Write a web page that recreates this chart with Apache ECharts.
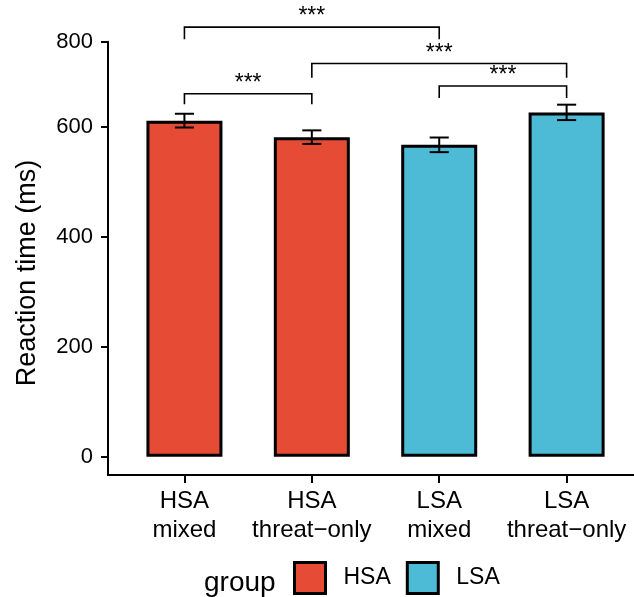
<!DOCTYPE html>
<html>
<head>
<meta charset="utf-8">
<script src="https://cdn.jsdelivr.net/npm/echarts@6/dist/echarts.min.js"></script>
<style>html,body{margin:0;padding:0;background:#fff}#c{width:634px;height:597px}</style>
</head>
<body>
<div id="c"></div>
<script>
// ---- data ----
const categories = ['HSA\nmixed', 'HSA\nthreat\u2212only', 'LSA\nmixed', 'LSA\nthreat\u2212only'];
const groupOf = ['HSA', 'HSA', 'LSA', 'LSA'];
const meanRT = [611, 581, 567, 626];
const seRT = [12.5, 12.3, 13.3, 14];
const groups = ['HSA', 'LSA'];
const yTickLabels = ['0', '200', '400', '600', '800'];
const yTickValues = [0, 200, 400, 600, 754.5];
const sigXmin = [1, 2, 1, 3];
const sigXmax = [3, 4, 2, 4];
const sigY = [781, 715, 660, 674];
const sigTip = [759, 689, 641, 652];
const sigLabel = ['***', '***', '***', '***'];

const colors = { HSA: '#E64B35', LSA: '#4DBBD5' };
const FONT = 'Liberation Sans, Arial, Helvetica, sans-serif';

const chart = echarts.init(document.getElementById('c'), null, { renderer: 'canvas' });

const barSeries = groups.map(g => ({
  name: g,
  type: 'bar',
  barWidth: 76,
  barGap: '-100%',
  itemStyle: { color: colors[g], borderColor: '#000', borderWidth: 3 },
  data: meanRT.map((v, i) => groupOf[i] === g ? [i + 1, v] : null).filter(d => d),
  z: 2
}));

const errData = meanRT.map((v, i) => [i + 1, v - seRT[i], v + seRT[i]]);
const sigData = sigXmin.map((x, i) => [x, sigXmax[i], sigY[i], sigTip[i], i]);

const option = {
  animation: false,
  backgroundColor: '#fff',
  grid: { left: 108, right: 0, top: 41.7, bottom: 122, containLabel: false },
  legend: {
    data: groups,
    left: 293,
    top: 561,
    padding: 0,
    icon: 'rect',
    itemWidth: 31,
    itemHeight: 31,
    itemGap: 15,
    itemStyle: { borderColor: '#000', borderWidth: 3 },
    textStyle: { fontFamily: FONT, fontSize: 23, color: '#000', padding: [0, 0, 0, 13] }
  },
  xAxis: {
    type: 'value',
    min: 0.4,
    max: 4.529,
    splitLine: { show: false },
    axisLine: { onZero: false, lineStyle: { color: '#000', width: 2 } },
    axisTick: { customValues: [1, 2, 3, 4], length: 8, lineStyle: { color: '#000', width: 2 } },
    axisLabel: {
      customValues: [1, 2, 3, 4],
      formatter: v => categories[Math.round(v) - 1],
      fontFamily: FONT, fontSize: 24, color: '#000', lineHeight: 29, margin: 12
    }
  },
  yAxis: {
    type: 'value',
    min: -33.3,
    max: 754.5,
    splitLine: { show: false },
    axisLine: { show: true, onZero: false, lineStyle: { color: '#000', width: 2 } },
    axisTick: { show: true, customValues: yTickValues, length: 7, lineStyle: { color: '#000', width: 2 } },
    axisLabel: {
      customValues: yTickValues,
      formatter: v => { const k = yTickValues.indexOf(v); return k >= 0 ? yTickLabels[k] : ''; },
      fontFamily: FONT, fontSize: 22, color: '#000', margin: 15
    }
  },
  graphic: [
    { type: 'text', x: 28, y: 273, rotation: Math.PI / 2,
      style: { text: 'Reaction time (ms)', fontFamily: FONT, fontSize: 27, fill: '#000', textAlign: 'center', textVerticalAlign: 'middle' } },
    { type: 'text', x: 204, y: 583,
      style: { text: 'group', fontFamily: FONT, fontSize: 28, fill: '#000', textAlign: 'left', textVerticalAlign: 'middle' } }
  ],
  series: [
    ...barSeries,
    {
      type: 'custom',
      name: 'se',
      z: 5,
      clip: false,
      data: errData,
      renderItem: (params, api) => {
        const x = api.value(0);
        const pLo = api.coord([x, api.value(1)]);
        const pHi = api.coord([x, api.value(2)]);
        const hw = api.size([0.15, 0])[0] / 2;
        const st = { stroke: '#000', lineWidth: 2, fill: null };
        return {
          type: 'group',
          children: [
            { type: 'line', shape: { x1: pLo[0], y1: pLo[1], x2: pHi[0], y2: pHi[1] }, style: st },
            { type: 'line', shape: { x1: pLo[0] - hw, y1: pLo[1], x2: pLo[0] + hw, y2: pLo[1] }, style: st },
            { type: 'line', shape: { x1: pHi[0] - hw, y1: pHi[1], x2: pHi[0] + hw, y2: pHi[1] }, style: st }
          ]
        };
      }
    },
    {
      type: 'custom',
      name: 'sig',
      z: 6,
      clip: false,
      data: sigData,
      renderItem: (params, api) => {
        const a = api.coord([api.value(0), api.value(2)]);
        const b = api.coord([api.value(1), api.value(2)]);
        const ta = api.coord([api.value(0), api.value(3)]);
        const tb = api.coord([api.value(1), api.value(3)]);
        return {
          type: 'group',
          children: [
            { type: 'polyline', shape: { points: [ta, a, b, tb] }, style: { stroke: '#000', lineWidth: 1.6, fill: null } },
            { type: 'text', x: (a[0] + b[0]) / 2, y: a[1] - 10,
              style: { text: sigLabel[api.value(4)], fontFamily: FONT, fontSize: 23, fill: '#000', textAlign: 'center', textVerticalAlign: 'middle' } }
          ]
        };
      }
    }
  ]
};
chart.setOption(option);
</script>
</body>
</html>
